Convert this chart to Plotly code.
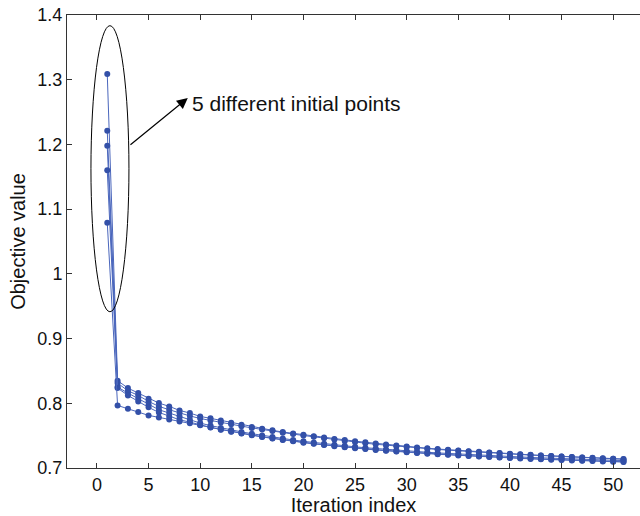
import plotly.graph_objects as go

iterations = list(range(1, 52))

run_1 = [1.309, 0.8350, 0.8235, 0.8158, 0.8070, 0.8003, 0.7952, 0.7890, 0.7849, 0.7797,
         0.7767, 0.7735, 0.7700, 0.7668, 0.7635, 0.7607, 0.7582, 0.7556, 0.7535, 0.7512,
         0.7490, 0.7470, 0.7450, 0.7432, 0.7415, 0.7397, 0.7380, 0.7364, 0.7347, 0.7332,
         0.7317, 0.7305, 0.7293, 0.7282, 0.7271, 0.7260, 0.7250, 0.7240, 0.7230, 0.7221,
         0.7212, 0.7203, 0.7195, 0.7187, 0.7179, 0.7171, 0.7164, 0.7157, 0.7150, 0.7144,
         0.7138]
run_2 = [1.221, 0.8312, 0.8193, 0.8122, 0.8029, 0.7952, 0.7900, 0.7850, 0.7805, 0.7765,
         0.7733, 0.7702, 0.7675, 0.7647, 0.7620, 0.7594, 0.7570, 0.7546, 0.7524, 0.7502,
         0.7481, 0.7461, 0.7442, 0.7418, 0.7400, 0.7383, 0.7367, 0.7352, 0.7337, 0.7323,
         0.7310, 0.7298, 0.7287, 0.7276, 0.7265, 0.7255, 0.7245, 0.7235, 0.7226, 0.7217,
         0.7208, 0.7200, 0.7192, 0.7184, 0.7176, 0.7169, 0.7162, 0.7155, 0.7148, 0.7142,
         0.7136]
run_3 = [1.198, 0.8250, 0.8158, 0.8070, 0.7977, 0.7900, 0.7849, 0.7797, 0.7745, 0.7694,
         0.7655, 0.7620, 0.7588, 0.7558, 0.7530, 0.7503, 0.7478, 0.7455, 0.7433, 0.7412,
         0.7393, 0.7375, 0.7358, 0.7342, 0.7327, 0.7313, 0.7300, 0.7287, 0.7275, 0.7264,
         0.7253, 0.7243, 0.7233, 0.7224, 0.7215, 0.7207, 0.7199, 0.7191, 0.7184, 0.7177,
         0.7170, 0.7163, 0.7157, 0.7151, 0.7145, 0.7139, 0.7134, 0.7129, 0.7124, 0.7119,
         0.7114]
run_4 = [1.160, 0.8235, 0.8122, 0.8029, 0.7937, 0.7859, 0.7797, 0.7745, 0.7709, 0.7665,
         0.7628, 0.7595, 0.7565, 0.7536, 0.7509, 0.7484, 0.7460, 0.7437, 0.7416, 0.7396,
         0.7377, 0.7359, 0.7342, 0.7326, 0.7311, 0.7297, 0.7284, 0.7271, 0.7259, 0.7248,
         0.7237, 0.7227, 0.7217, 0.7208, 0.7199, 0.7190, 0.7182, 0.7174, 0.7167, 0.7160,
         0.7153, 0.7146, 0.7140, 0.7134, 0.7128, 0.7122, 0.7117, 0.7112, 0.7107, 0.7102,
         0.7097]
run_5 = [1.079, 0.7967, 0.7915, 0.7864, 0.7813, 0.7782, 0.7750, 0.7720, 0.7690, 0.7660,
         0.7625, 0.7592, 0.7561, 0.7532, 0.7505, 0.7480, 0.7456, 0.7433, 0.7412, 0.7392,
         0.7373, 0.7355, 0.7338, 0.7322, 0.7307, 0.7293, 0.7279, 0.7266, 0.7254, 0.7243,
         0.7232, 0.7222, 0.7212, 0.7203, 0.7194, 0.7185, 0.7177, 0.7169, 0.7162, 0.7155,
         0.7148, 0.7141, 0.7135, 0.7129, 0.7123, 0.7117, 0.7112, 0.7107, 0.7102, 0.7097,
         0.7092]

runs = [run_1, run_2, run_3, run_4, run_5]

x_ticks = list(range(0, 51, 5))
y_ticks = [0.7, 0.8, 0.9, 1.0, 1.1, 1.2, 1.3, 1.4]
y_tick_labels = ["0.7", "0.8", "0.9", "1", "1.1", "1.2", "1.3", "1.4"]

note_text = "5 different initial points"

line_color = "#4A66BC"
marker_color = "#3350A8"
font_family = "Liberation Sans, Arial, sans-serif"

fig = go.Figure()
for r in runs:
    fig.add_trace(go.Scatter(
        x=iterations, y=r, mode="lines+markers",
        line=dict(color=line_color, width=1),
        marker=dict(color=marker_color, size=6),
        showlegend=False, hoverinfo="skip"))

# ellipse around the initial points
fig.add_shape(type="circle", xref="x", yref="y",
              x0=-0.58, x1=3.1, y0=0.9414, y1=1.3835,
              line=dict(color="black", width=1))

# arrow
fig.add_annotation(x=8.8, y=1.2717, ax=3.1, ay=1.1975,
                   xref="x", yref="y", axref="x", ayref="y",
                   text="", showarrow=True, arrowhead=2, arrowsize=1.8,
                   arrowwidth=1.2, arrowcolor="black")
fig.add_annotation(x=9.0, y=1.264, xref="x", yref="y", text=note_text,
                   showarrow=False, xanchor="left", yanchor="middle",
                   font=dict(family=font_family, size=21, color="#111"))

axis_common = dict(showline=True, linecolor="#333", linewidth=1,
                   ticks="inside", ticklen=5, tickcolor="#333",
                   showgrid=False, zeroline=False, automargin=False,
                   tickfont=dict(family=font_family, size=18, color="#111"))

fig.update_xaxes(range=[-2.9, 52.6], tickvals=x_ticks, mirror="ticks",
                 title=dict(text="Iteration index", standoff=0,
                            font=dict(family=font_family, size=20, color="#111")),
                 **axis_common)
fig.update_yaxes(range=[0.7, 1.4], tickvals=y_ticks, ticktext=y_tick_labels,
                 title=dict(text="Objective value", standoff=6,
                            font=dict(family=font_family, size=20, color="#111")),
                 **axis_common)

fig.update_layout(width=640, height=516,
                  margin=dict(l=67, r=0, t=15, b=48),
                  plot_bgcolor="white", paper_bgcolor="white")

fig.write_html("out.html", config={"displayModeBar": False},
               post_script="document.body.style.margin='0px';document.body.style.overflow='hidden';")
